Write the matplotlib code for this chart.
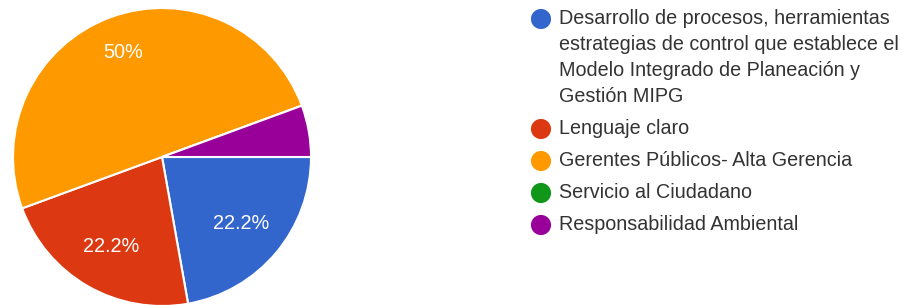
import numpy as np
import matplotlib.pyplot as plt

plt.rcParams['font.family'] = ['Liberation Sans', 'DejaVu Sans']

categories = [
    'Desarrollo de procesos, herramientas\nestrategias de control que establece el\nModelo Integrado de Planeación y\nGestión MIPG',
    'Lenguaje claro',
    'Gerentes Públicos- Alta Gerencia',
    'Servicio al Ciudadano',
    'Responsabilidad Ambiental',
]
values = [22.2, 22.2, 50.0, 0.0, 5.6]
colors = ['#3366cc', '#dc3912', '#ff9900', '#109618', '#990099']


def pct_label(p):
    if p < 8:
        return ''
    s = '%.1f' % p
    if s.endswith('.0'):
        s = s[:-2]
    return s + '%'


W, H = 904, 305
fig = plt.figure(figsize=(W / 100, H / 100), dpi=100)

# pie: centre (162,157) px, radius 149 px
cx, cy, r = 162, 157, 149
ax = fig.add_axes([(cx - r) / W, (H - cy - r) / H, 2 * r / W, 2 * r / H])
wedges, texts, autotexts = ax.pie(
    values, colors=colors, startangle=0, counterclock=False,
    autopct=pct_label, pctdistance=0.69,
    wedgeprops=dict(edgecolor='white', linewidth=1.5),
    textprops=dict(color='white', fontsize=14.3))
ax.set_xlim(-1, 1)
ax.set_ylim(-1, 1)
ax.set_aspect('equal')

# the big slice's label sits a bit further out
w = wedges[2]
mid = np.deg2rad((w.theta1 + w.theta2) / 2)
autotexts[2].set_position((0.75 * np.cos(mid), 0.75 * np.sin(mid)))

# legend drawn on an overlay in pixel coordinates
lax = fig.add_axes([0, 0, 1, 1])
lax.set_xlim(0, W)
lax.set_ylim(H, 0)
lax.axis('off')
lax.patch.set_alpha(0)

line_h = 26
gap = 32
y = 19
for lab, col in zip(categories, colors):
    lax.scatter([541], [y], s=210, color=col, edgecolors='none')
    lines = lab.split('\n')
    for i, ln in enumerate(lines):
        lax.text(559, y + i * line_h, ln, fontsize=14.2, color='#333333',
                 va='center', ha='left')
    y += (len(lines) - 1) * line_h + gap

fig.savefig('out.png', dpi=100)
